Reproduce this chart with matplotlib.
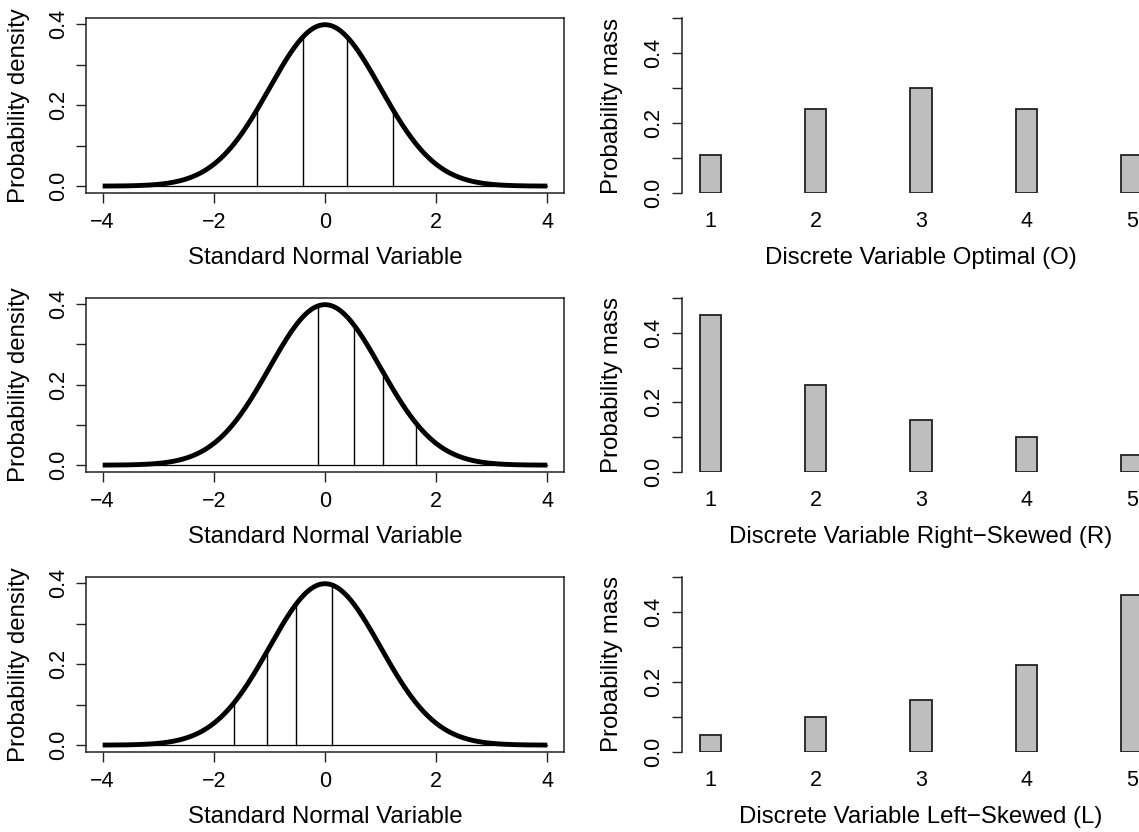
import numpy as np
import matplotlib
matplotlib.use("Agg")
import matplotlib.pyplot as plt

plt.rcParams['font.family'] = ['Liberation Sans', 'DejaVu Sans']
plt.rcParams['axes.unicode_minus'] = True

# ---- data ----
categories = [1, 2, 3, 4, 5]
prob_optimal = [0.11, 0.24, 0.30, 0.24, 0.11]
prob_right = [0.45, 0.25, 0.15, 0.10, 0.05]
prob_left = [0.05, 0.10, 0.15, 0.25, 0.45]
thresh_optimal = [-1.23, -0.39, 0.39, 1.23]
thresh_right = [-0.13, 0.52, 1.04, 1.64]
thresh_left = [-1.64, -1.04, -0.52, 0.13]
x_ticks_left = [-4, -2, 0, 2, 4]
y_ticks_left = [0.0, 0.1, 0.2, 0.3, 0.4]
y_ticks_right = [0.0, 0.1, 0.2, 0.3, 0.4, 0.5]
xlabels_right = ["Discrete Variable Optimal (O)",
                 "Discrete Variable Right\u2212Skewed (R)",
                 "Discrete Variable Left\u2212Skewed (L)"]

rows = [(prob_optimal, thresh_optimal, xlabels_right[0]),
        (prob_right, thresh_right, xlabels_right[1]),
        (prob_left, thresh_left, xlabels_right[2])]

W, H = 1139, 832
fig = plt.figure(figsize=(W / 100, H / 100), dpi=100)

# pixel boxes (top, bottom) per row
row_px = [(18, 193), (298, 472), (577, 752)]
FS_LAB = 17.3
FS_TICK = 15.5
EDGE = '#222222'


def pdf(z):
    return np.exp(-0.5 * z ** 2) / np.sqrt(2 * np.pi)


def ylab_fmt(v):
    return f"{v:.1f}" if round(v * 10) % 2 == 0 else ""


def xlab_fmt(v):
    return f"\u2212{abs(v)}" if v < 0 else f"{v}"


for (probs, thr, xlab), (top, bot) in zip(rows, row_px):
    hpx = bot - top
    # left: normal density
    axl = fig.add_axes([86 / W, 1 - bot / H, (564 - 86) / W, hpx / H])
    zz = np.linspace(-4, 4, 400)
    axl.plot([-4, 4], [0, 0], color='black', lw=0.9)
    for t in thr:
        axl.plot([t, t], [0, pdf(t)], color='black', lw=1.0)
    axl.plot(zz, pdf(zz), color='black', lw=3.5, solid_capstyle='butt')
    axl.set_xlim(-4.3, 4.3)
    axl.set_ylim(-0.017, 0.4155)
    axl.set_xticks(x_ticks_left)
    axl.set_xticklabels([xlab_fmt(v) for v in x_ticks_left])
    axl.set_yticks(y_ticks_left)
    axl.set_yticklabels([ylab_fmt(v) for v in y_ticks_left], rotation=90, va='center')
    axl.tick_params(axis='both', labelsize=FS_TICK, length=7, width=1.0, color=EDGE)
    axl.tick_params(axis='x', pad=7)
    axl.tick_params(axis='y', pad=4.8)
    for s in axl.spines.values():
        s.set_linewidth(1.1)
        s.set_color(EDGE)
    axl.set_xlabel("Standard Normal Variable", fontsize=FS_LAB, va='center')
    axl.xaxis.set_label_coords(0.5, -65 / hpx)
    axl.set_ylabel("Probability density", fontsize=FS_LAB, va='center')
    axl.yaxis.set_label_coords((19 - 86) / 478, 0.5)

    # right: bars
    axr = fig.add_axes([682 / W, 1 - bot / H, (1160 - 682) / W, hpx / H])
    axr.bar(categories, probs, width=0.2, color='#bebebe', edgecolor=EDGE, linewidth=1.3)
    axr.set_xlim(0.732, 5.268)
    axr.set_ylim(0, 0.5)
    axr.set_xticks(categories)
    axr.set_xticklabels([str(c) for c in categories])
    axr.set_yticks(y_ticks_right)
    axr.set_yticklabels([ylab_fmt(v) for v in y_ticks_right], rotation=90, va='center')
    for k in ['top', 'right', 'bottom']:
        axr.spines[k].set_visible(False)
    axr.spines['left'].set_linewidth(1.1)
    axr.spines['left'].set_color(EDGE)
    axr.tick_params(axis='x', labelsize=FS_TICK, length=0, pad=13)
    axr.tick_params(axis='y', labelsize=FS_TICK, length=7, width=1.0, color=EDGE, pad=5.9)
    axr.set_xlabel(xlab, fontsize=FS_LAB, va='center')
    axr.xaxis.set_label_coords(0.5, -65 / hpx)
    axr.set_ylabel("Probability mass", fontsize=FS_LAB, va='center')
    axr.yaxis.set_label_coords((612 - 682) / 478, 0.5)

fig.savefig("out.png", dpi=100)
